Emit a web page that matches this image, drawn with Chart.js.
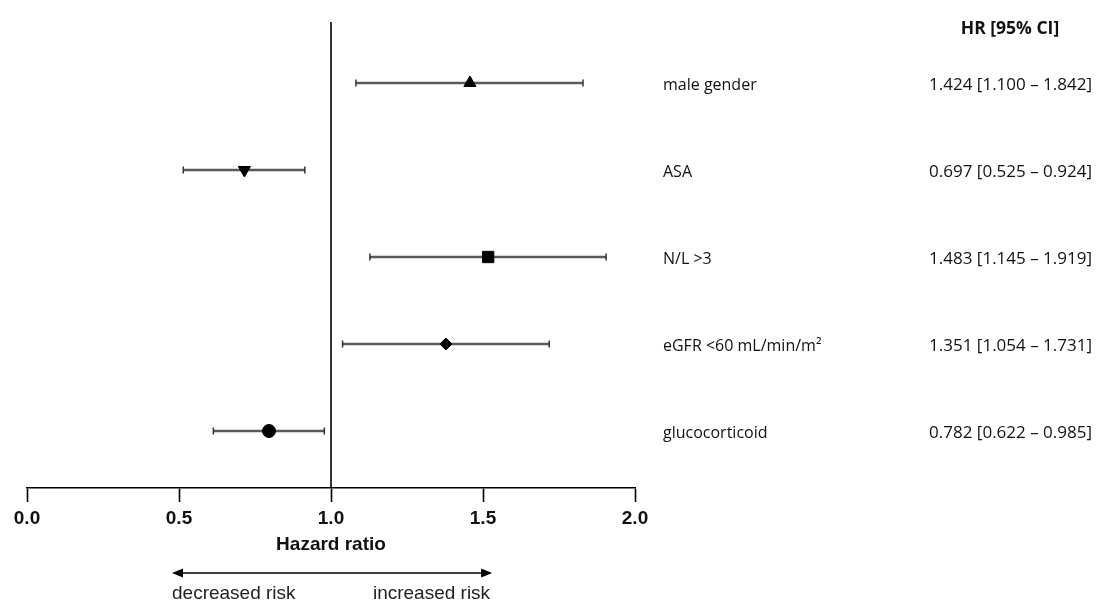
<!DOCTYPE html>
<html>
<head>
<meta charset="utf-8">
<script src="https://cdn.jsdelivr.net/npm/chart.js@4.4.0/dist/chart.umd.min.js"></script>
<style>
    html, body { margin: 0; padding: 0; background: #ffffff; }
    #wrap { position: relative; width: 1110px; height: 603px; }
</style>
</head>
<body>
<div id="wrap"><canvas id="forestChart"></canvas></div>
<script>
// DATA
const factors = ["male gender", "ASA", "N/L >3", "eGFR <60 mL/min/m²", "glucocorticoid"];
const hrLabels = [
    "1.424 [1.100 – 1.842]",
    "0.697 [0.525 – 0.924]",
    "1.483 [1.145 – 1.919]",
    "1.351 [1.054 – 1.731]",
    "0.782 [0.622 – 0.985]",
];
const hrPoint = [1.457, 0.715, 1.517, 1.378, 0.796];
const ciLow = [1.082, 0.514, 1.128, 1.038, 0.613];
const ciHigh = [1.829, 0.914, 1.905, 1.718, 0.978];
const rowIndex = [1, 2, 3, 4, 5];
const xTicks = [0, 0.5, 1.0, 1.5, 2.0];
const xTickLabels = ["0.0", "0.5", "1.0", "1.5", "2.0"];
const headerText = "HR [95% CI]";
const axisTitle = "Hazard ratio";
const riskLabels = ["decreased risk", "increased risk"];
const riskArrow = [0.477, 1.53];
// DATA

const markerStyles = ["triangle", "triangle", "rect", "rectRot", "circle"];
const markerRotation = [0, 180, 0, 0, 0];
const markerRadius = [7, 7, 8, 6, 6.5];

// CI BAR DATASETS
function ciDatasets() {
    var sets = [];
    for (var i = 0; i < rowIndex.length; i++) {
        sets.push({
            type: "line",
            data: [
                { x: ciLow[i], y: rowIndex[i] },
                { x: ciHigh[i], y: rowIndex[i] },
            ],
            borderColor: "#5a5a5a",
            borderWidth: 2.4,
            pointRadius: 0,
            showLine: true,
            order: 2,
        });
    }
    return sets;
}
// CI BAR DATASETS

// PLUGIN FOR REFERENCE LINE, CAPS AND SIDE TEXT
const forestExtras = {
    id: "forestExtras",
    beforeDatasetsDraw: function (chart) {
        var ctx = chart.ctx;
        var xs = chart.scales.x;
        var area = chart.chartArea;
        var x1 = xs.getPixelForValue(1.0);
        ctx.save();
        ctx.strokeStyle = "#000";
        ctx.lineWidth = 1.6;
        ctx.beginPath();
        ctx.moveTo(x1, area.top);
        ctx.lineTo(x1, area.bottom);
        ctx.stroke();
        ctx.restore();
    },
    afterDatasetsDraw: function (chart) {
        var ctx = chart.ctx;
        var xs = chart.scales.x;
        var ys = chart.scales.y;
        ctx.save();
        // caps
        ctx.strokeStyle = "#333";
        ctx.lineWidth = 1.5;
        for (var i = 0; i < rowIndex.length; i++) {
            var yy = ys.getPixelForValue(rowIndex[i]);
            [ciLow[i], ciHigh[i]].forEach(function (v) {
                var xx = xs.getPixelForValue(v);
                ctx.beginPath();
                ctx.moveTo(xx, yy - 3.5);
                ctx.lineTo(xx, yy + 3.5);
                ctx.stroke();
            });
        }
        // right side labels
        ctx.fillStyle = "#111";
        ctx.textBaseline = "middle";
        for (var j = 0; j < factors.length; j++) {
            var ry = ys.getPixelForValue(rowIndex[j]) + 2;
            ctx.font = "16px 'Open Sans'";
            ctx.textAlign = "left";
            ctx.fillText(factors[j], 663, ry);
            ctx.font = "17px 'Open Sans'";
            ctx.textAlign = "right";
            ctx.fillText(hrLabels[j], 1092, ry);
        }
        ctx.font = "bold 17.5px 'Open Sans'";
        ctx.textAlign = "center";
        ctx.fillText(headerText, 1010, 29);

        // risk arrow
        var ay = 573;
        var ax0 = xs.getPixelForValue(riskArrow[0]);
        var ax1 = xs.getPixelForValue(riskArrow[1]);
        ctx.strokeStyle = "#000";
        ctx.fillStyle = "#000";
        ctx.lineWidth = 1.5;
        ctx.beginPath();
        ctx.moveTo(ax0 + 6, ay);
        ctx.lineTo(ax1 - 6, ay);
        ctx.stroke();
        ctx.beginPath();
        ctx.moveTo(ax0, ay);
        ctx.lineTo(ax0 + 11, ay - 4.5);
        ctx.lineTo(ax0 + 11, ay + 4.5);
        ctx.closePath();
        ctx.fill();
        ctx.beginPath();
        ctx.moveTo(ax1, ay);
        ctx.lineTo(ax1 - 11, ay - 4.5);
        ctx.lineTo(ax1 - 11, ay + 4.5);
        ctx.closePath();
        ctx.fill();
        ctx.fillStyle = "#222";
        ctx.font = "19px 'Liberation Sans'";
        ctx.textAlign = "left";
        ctx.fillText(riskLabels[0], ax0, 594);
        ctx.textAlign = "right";
        ctx.fillText(riskLabels[1], ax1 - 2, 594);
        ctx.restore();
    },
};
// PLUGIN FOR REFERENCE LINE, CAPS AND SIDE TEXT

// FOREST PLOT
function forestPlot() {
    const ctx = document.getElementById("forestChart").getContext("2d");
    var markers = {
        type: "scatter",
        data: rowIndex.map(function (r, i) {
            return { x: hrPoint[i], y: r };
        }),
        pointStyle: markerStyles,
        rotation: markerRotation,
        pointRadius: markerRadius,
        pointHoverRadius: markerRadius,
        backgroundColor: "#000",
        borderColor: "#000",
        borderWidth: 1,
        order: 1,
    };
    new Chart(ctx, {
        type: "scatter",
        data: {
            datasets: [markers].concat(ciDatasets()),
        },
        plugins: [forestExtras],
        options: {
            responsive: true,
            maintainAspectRatio: false,
            animation: false,
            layout: {
                padding: { left: 27, right: 475, top: 22, bottom: 45 },
            },
            plugins: {
                legend: { display: false },
                tooltip: { enabled: false },
            },
            scales: {
                x: {
                    type: "linear",
                    min: 0,
                    max: 2,
                    afterBuildTicks: function (scale) {
                        scale.ticks = xTicks.map(function (v) {
                            return { value: v };
                        });
                    },
                    afterFit: function (scale) {
                        scale.height = 70;
                    },
                    border: { display: true, color: "#000", width: 1.6 },
                    grid: {
                        drawOnChartArea: false,
                        drawTicks: true,
                        tickLength: 14,
                        tickWidth: 1.6,
                        tickColor: "#000",
                    },
                    ticks: {
                        autoSkip: false,
                        maxRotation: 0,
                        padding: 5,
                        color: "#111",
                        font: { family: "'Liberation Sans', Arial", size: 19, weight: "bold" },
                        callback: function (value) {
                            var k = xTicks.indexOf(value);
                            return k >= 0 ? xTickLabels[k] : "";
                        },
                    },
                    title: {
                        display: true,
                        text: axisTitle,
                        color: "#111",
                        padding: { top: 0, bottom: 2 },
                        font: { family: "'Liberation Sans', Arial", size: 19, weight: "bold" },
                    },
                },
                y: {
                    type: "linear",
                    display: false,
                    reverse: true,
                    min: 0.299,
                    max: 5.655,
                },
            },
        },
    });
}
// FOREST PLOT

forestPlot();
</script>
</body>
</html>
